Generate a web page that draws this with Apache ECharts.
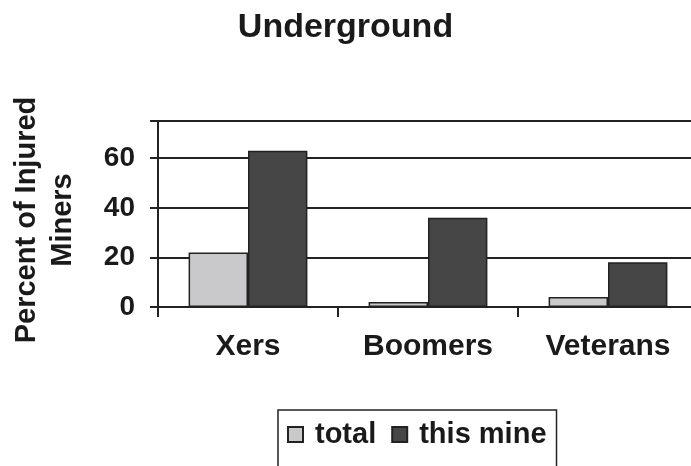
<!DOCTYPE html>
<html>
<head>
<meta charset="utf-8">
<script src="https://cdn.jsdelivr.net/npm/echarts@6/dist/echarts.min.js"></script>
<style>
html,body{margin:0;padding:0;background:#fff;}
#chart{width:691px;height:466px;}
</style>
</head>
<body>
<div id="chart"></div>
<script>
const titleText = 'Underground';
const categories = ['Xers', 'Boomers', 'Veterans'];
const seriesNames = ['total', 'this mine'];
const totalValues = [22, 2, 4];
const thisMineValues = [63, 36, 18];
const yAxisTitle = 'Percent of Injured\nMiners';
const yMax = 75;
const yInterval = 20;

const FONT = '"Liberation Sans", Arial, sans-serif';
const chart = echarts.init(document.getElementById('chart'), null, {renderer: 'canvas'});
chart.setOption({
  animation: false,
  backgroundColor: '#ffffff',
  title: {
    text: titleText,
    left: 'center',
    top: 6,
    textStyle: {fontFamily: FONT, fontWeight: 'bold', fontSize: 34, color: '#1a1a1a'}
  },
  grid: {left: 158, top: 121, width: 540, bottom: 159, containLabel: false, outerBoundsMode: 'none'},
  legend: {
    data: seriesNames,
    left: 278,
    top: 410,
    orient: 'horizontal',
    padding: [10, 10, 22, 9],
    itemGap: 15,
    itemWidth: 15,
    itemHeight: 15,
    icon: 'rect',
    borderColor: '#222',
    borderWidth: 1.5,
    textStyle: {fontFamily: FONT, fontWeight: 'bold', fontSize: 29, color: '#1a1a1a', padding: [0, 0, 0, 7]}
  },
  xAxis: {
    type: 'category',
    data: categories,
    axisLine: {show: true, lineStyle: {color: '#222', width: 2}},
    axisTick: {show: true, length: 10, lineStyle: {color: '#222', width: 2}},
    axisLabel: {fontFamily: FONT, fontWeight: 'bold', fontSize: 30, color: '#1a1a1a', margin: 25}
  },
  yAxis: {
    type: 'value',
    min: 0,
    max: yMax,
    interval: yInterval,
    name: yAxisTitle,
    nameLocation: 'middle',
    nameGap: 77,
    nameTextStyle: {fontFamily: FONT, fontWeight: 'bold', fontSize: 29, color: '#1a1a1a', lineHeight: 36, padding: [0, 12, 0, 0]},
    axisLine: {show: true, lineStyle: {color: '#222', width: 2}},
    axisTick: {show: true, length: 8, lineStyle: {color: '#222', width: 2}},
    axisLabel: {
      fontFamily: FONT, fontWeight: 'bold', fontSize: 28, color: '#1a1a1a', margin: 23,
      formatter: function (v) { return v === yMax ? '' : String(v); }
    },
    splitLine: {show: true, lineStyle: {color: '#222', width: 2}}
  },
  series: [
    {
      name: seriesNames[0],
      type: 'bar',
      data: totalValues,
      barGap: '0%',
      barCategoryGap: '34%',
      itemStyle: {color: '#c9c9cb', borderColor: '#222', borderWidth: 1.5}
    },
    {
      name: seriesNames[1],
      type: 'bar',
      data: thisMineValues,
      barGap: '0%',
      barCategoryGap: '34%',
      itemStyle: {color: '#464646', borderColor: '#222', borderWidth: 1.5}
    }
  ]
});
</script>
</body>
</html>
